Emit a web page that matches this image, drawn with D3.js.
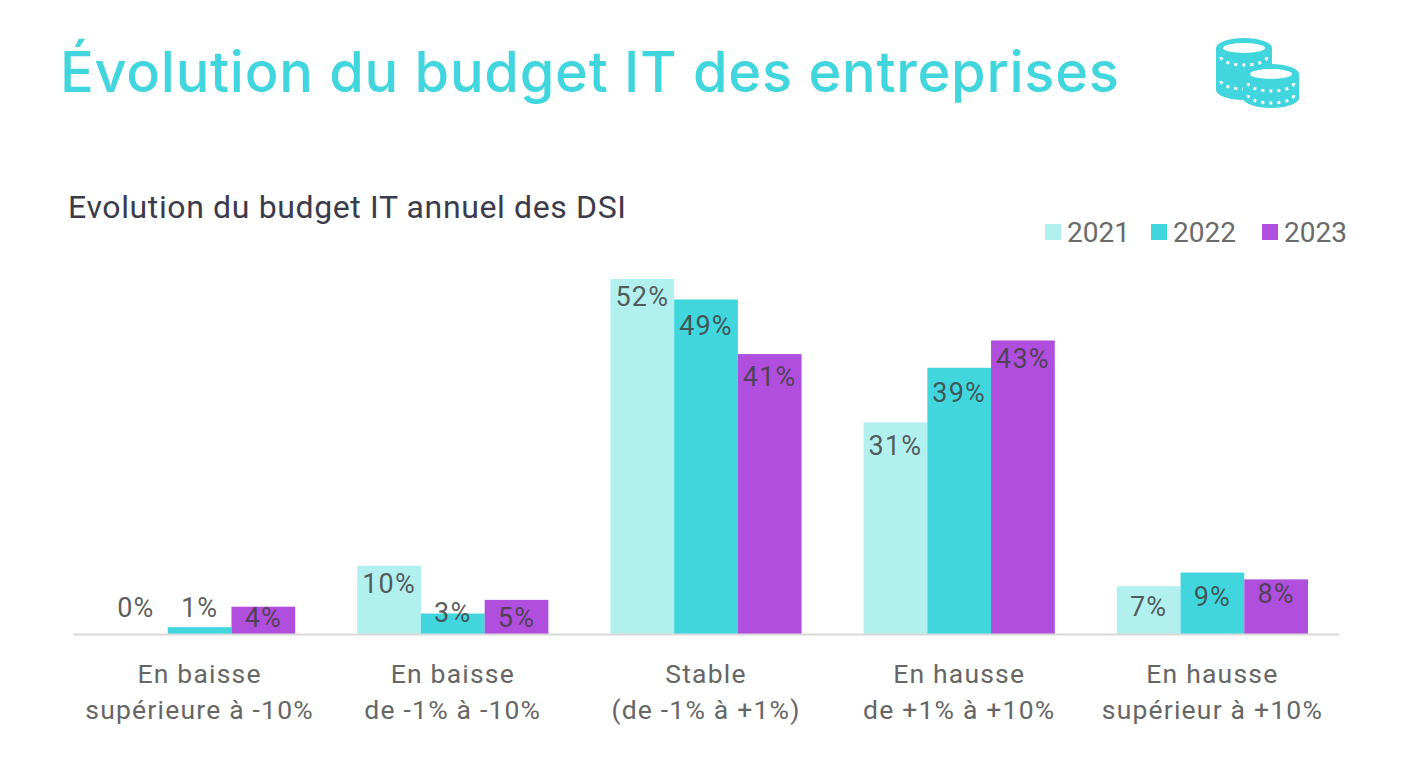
<!DOCTYPE html>
<html>
<head>
<meta charset="utf-8">
<script src="https://cdn.jsdelivr.net/npm/d3@7"></script>
<style>
  html, body { margin: 0; background: #fff; }
  svg { display: block; }
  text { font-family: Roboto, sans-serif; }
</style>
</head>
<body>
<svg id="chart"></svg>
<script>
const categories = [
  ["En baisse", "supérieure à -10%"],
  ["En baisse", "de -1% à -10%"],
  ["Stable", "(de -1% à +1%)"],
  ["En hausse", "de +1% à +10%"],
  ["En hausse", "supérieur à +10%"],
];
const years = ["2021", "2022", "2023"];
const values2021 = [0, 10, 52, 31, 7];
const values2022 = [1, 3, 49, 39, 9];
const values2023 = [4, 5, 41, 43, 8];
const colors = ["#b2f0f0", "#41d6de", "#b04edd"];

// label centre below the bar top, the source labels sit unevenly
const labelDrop2021 = [-27, 18, 17, 23, 20];
const labelDrop2022 = [-20, -1, 26, 25, 24];
const labelDrop2023 = [11, 17, 22, 18, 14];

const width = 1420, height = 776;
const teal = "#41d6de";
const svg = d3.select("#chart").attr("width", width).attr("height", height);

svg.append("text")
  .attr("x", 60).attr("y", 92)
  .attr("font-size", 56)
  .attr("font-weight", 500)
  .attr("textLength", 1059)
  .attr("fill", teal)
  .style("font-family", "Inter, sans-serif")
  .text("Évolution du budget IT des entreprises");

svg.append("text")
  .attr("x", 68).attr("y", 218)
  .attr("font-size", 32)
  .attr("textLength", 558)
  .attr("fill", "#3b3b4b")
  .text("Evolution du budget IT annuel des DSI");

const x0 = d3.scaleBand().domain(d3.range(categories.length)).range([73, 1339]).paddingInner(0.245).paddingOuter(0.1225);
const x1 = d3.scaleBand().domain(years).range([0, x0.bandwidth()]);
const y = d3.scaleLinear().domain([0, 52]).range([634, 279]);

const series = [
  { year: "2021", values: values2021, drops: labelDrop2021 },
  { year: "2022", values: values2022, drops: labelDrop2022 },
  { year: "2023", values: values2023, drops: labelDrop2023 },
];
const color = d3.scaleOrdinal().domain(years).range(colors);

const groups = svg.selectAll("g.series").data(series).enter().append("g")
  .attr("class", "series");

groups.selectAll("rect")
  .data((s) => s.values.map((v, i) => ({ v, i, year: s.year })))
  .enter().append("rect")
  .attr("x", (d) => x0(d.i) + x1(d.year))
  .attr("y", (d) => y(d.v))
  .attr("width", x1.bandwidth())
  .attr("height", (d) => y(0) - y(d.v))
  .attr("fill", (d) => color(d.year));

// baseline comes from a d3 axis with no ticks
const axis = svg.append("g")
  .attr("transform", "translate(0," + y(0) + ")")
  .call(d3.axisBottom(x0).tickSize(0).tickFormat(""));
axis.select(".domain").attr("stroke", "#d9d9d9").attr("stroke-width", 2);

groups.selectAll("text.value")
  .data((s) => s.values.map((v, i) => ({ v, i, year: s.year, drop: s.drops[i] })))
  .enter().append("text")
  .attr("class", "value")
  .attr("x", (d) => x0(d.i) + x1(d.year) + x1.bandwidth() / 2)
  .attr("y", (d) => y(d.v) + d.drop)
  .attr("dy", "0.36em")
  .attr("text-anchor", "middle")
  .attr("font-size", 27)
  .attr("letter-spacing", 1.2)
  .attr("fill", "#404040")
  .attr("fill-opacity", 0.85)
  .text((d) => d.v + "%");

const catLabels = svg.selectAll("text.cat").data(categories).enter().append("text")
  .attr("class", "cat")
  .attr("text-anchor", "middle")
  .attr("font-size", 26.5)
  .attr("letter-spacing", 1.2)
  .attr("fill", "#666666");
catLabels.selectAll("tspan").data((d, i) => d.map((line) => ({ line, i }))).enter().append("tspan")
  .attr("x", (d) => x0(d.i) + x0.bandwidth() / 2)
  .attr("y", (d, j) => 683 + j * 36)
  .text((d) => d.line);

const legendX = [1045, 1151, 1262];
const legend = svg.selectAll("g.legend").data(years).enter().append("g")
  .attr("class", "legend")
  .attr("transform", (d, i) => "translate(" + legendX[i] + ",224)");
legend.append("rect").attr("width", 16).attr("height", 16).attr("fill", (d) => color(d));
legend.append("text")
  .attr("x", 22).attr("y", 18)
  .attr("font-size", 28)
  .attr("fill", "#6a6a6a")
  .text((d) => d);

// coin stacks icon: solid body, top ring, rows of white dots
function coinStack(g, cx, top, bodyHeight, dotRows) {
  const rx = 28, ry = 10;
  g.append("path")
    .attr("d", `M${cx - rx},${top} v${bodyHeight} a${rx},${ry} 0 0 0 ${2 * rx},0 v${-bodyHeight} Z`)
    .attr("fill", teal);
  dotRows.forEach((row) => {
    g.append("path")
      .attr("d", `M${cx - rx + 5},${top + row} a${rx - 5},${ry - 2} 0 0 0 ${2 * rx - 10},0`)
      .attr("fill", "none").attr("stroke", "#fff").attr("stroke-width", 3).attr("stroke-dasharray", "3 5");
  });
  g.append("ellipse").attr("cx", cx).attr("cy", top).attr("rx", rx).attr("ry", ry).attr("fill", teal);
  g.append("ellipse").attr("cx", cx).attr("cy", top).attr("rx", rx - 7).attr("ry", ry - 5).attr("fill", "#fff");
}
const icon = svg.append("g");
coinStack(icon, 1244, 48, 42, [9, 33]);
coinStack(icon, 1271, 74, 24, [9, 21]);
</script>
</body>
</html>
